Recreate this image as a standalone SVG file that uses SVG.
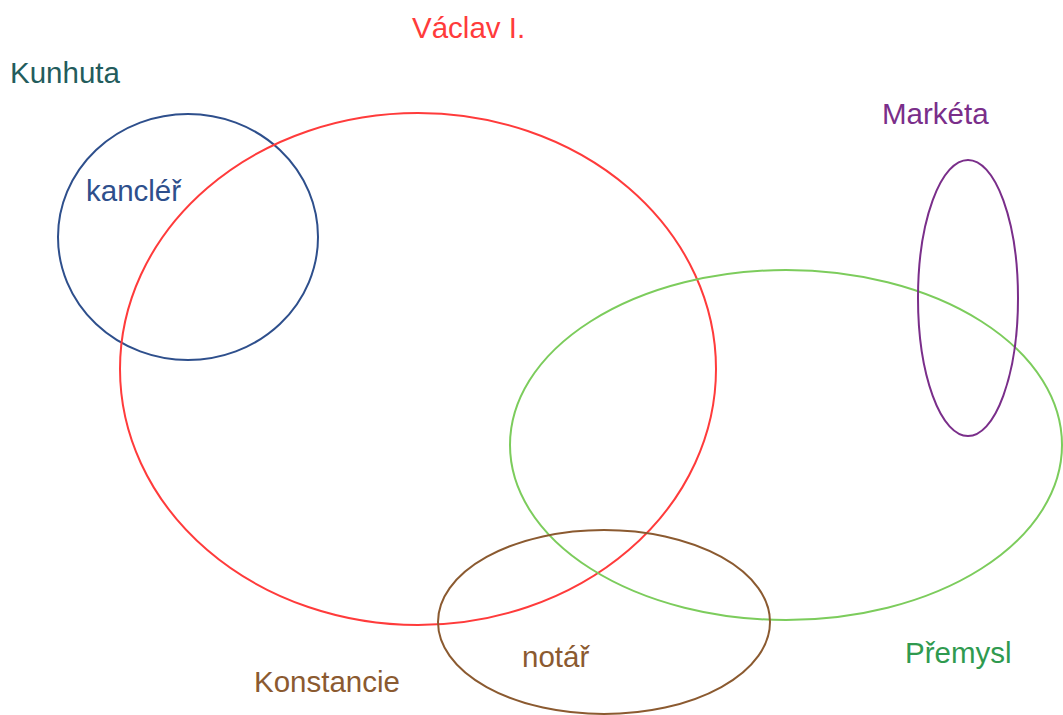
<svg xmlns="http://www.w3.org/2000/svg" width="1063" height="715" viewBox="0 0 1063 715">
<style>
.s{fill:none;stroke-width:2}
text{font-family:"Liberation Sans",Arial,sans-serif;font-size:29.5px}
</style>
<rect width="1063" height="715" fill="#fff"/>
<g id="sets">
<g id="kancler"><ellipse class="s" cx="188" cy="237" rx="130" ry="123" stroke="#2e4f8c"/><text x="86" y="201" fill="#2e4f8c">kancléř</text></g>
<g id="vaclav"><ellipse class="s" cx="418" cy="369" rx="298" ry="256" stroke="#ff3b3b"/><text x="412" y="38" fill="#ff3b3b">Václav I.</text></g>
<g id="premysl"><ellipse class="s" cx="786" cy="445" rx="276" ry="175" stroke="#7ccc5c"/><text x="905" y="663" fill="#2f9a4f">Přemysl</text></g>
<g id="marketa"><ellipse class="s" cx="968" cy="298" rx="50" ry="138" stroke="#7a2e8a"/><text x="882" y="124" fill="#7a2e8a">Markéta</text></g>
<g id="notar"><ellipse class="s" cx="604" cy="622" rx="166" ry="92" stroke="#8b5a30"/><text x="522" y="667" fill="#8b5a30">notář</text></g>
<g id="konstancie"><text x="254" y="692" fill="#8b5a30">Konstancie</text></g>
<g id="kunhuta"><text x="10" y="83" fill="#235c5c">Kunhuta</text></g>
</g>
<g id="connectors"/>
</svg>
